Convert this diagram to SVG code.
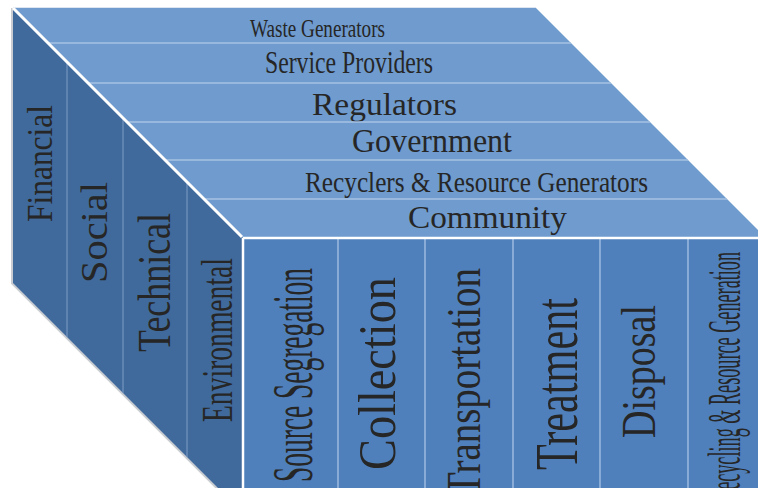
<svg xmlns="http://www.w3.org/2000/svg" width="758" height="488" viewBox="0 0 758 488">
<style>
  .top { fill: #6F9BCE; }
  .left { fill: #406A9B; }
  .front { fill: #4F80BC; }
  .sepTop { stroke: #A7C2E3; stroke-width: 1.5; fill: none; }
  .sepLeft { stroke: #7E9DC4; stroke-width: 1; fill: none; }
  .sepFront { stroke: #AEC8E8; stroke-width: 1.2; fill: none; }
  .edge { stroke: #FFFFFF; fill: none; }
  text { font-family: "Liberation Serif", "DejaVu Serif", serif; fill: #262626; }
</style>
<rect width="758" height="488" fill="#FFFFFF"/>

<!-- outer outline / shadow -->
<path d="M13,8 L13,283 L250,520" fill="none" stroke="#C9CCD0" stroke-width="4"/>
<path d="M13,8 L536,8" fill="none" stroke="#DCE5F0" stroke-width="2"/>

<!-- Top face rows -->
<g id="row-waste-generators">
  <polygon class="top" points="13,8 536,8 571,43 48,43"/>
  <text x="250" y="37" font-size="26" textLength="135" lengthAdjust="spacingAndGlyphs">Waste Generators</text>
</g>
<g id="row-service-providers">
  <polygon class="top" points="48,43 571,43 611,83 88,83"/>
  <text x="265" y="73" font-size="31" textLength="168" lengthAdjust="spacingAndGlyphs">Service Providers</text>
</g>
<g id="row-regulators">
  <polygon class="top" points="88,83 611,83 650,122 127,122"/>
  <text x="312" y="115" font-size="32" textLength="145" lengthAdjust="spacingAndGlyphs">Regulators</text>
</g>
<g id="row-government">
  <polygon class="top" points="127,122 650,122 688,160 165,160"/>
  <text x="352" y="152" font-size="33" textLength="160" lengthAdjust="spacingAndGlyphs">Government</text>
</g>
<g id="row-recyclers">
  <polygon class="top" points="165,160 688,160 727,199 204,199"/>
  <text x="305" y="191.5" font-size="30" textLength="343" lengthAdjust="spacingAndGlyphs">Recyclers &amp; Resource Generators</text>
</g>
<g id="row-community">
  <polygon class="top" points="204,199 727,199 766,238 243,238"/>
  <text x="408" y="228" font-size="32" textLength="159" lengthAdjust="spacingAndGlyphs">Community</text>
</g>

<!-- Left face columns -->
<g id="col-financial">
  <polygon class="left" points="13,8 67,62 67,337 13,283"/>
  <text font-size="35" text-anchor="middle" textLength="117" lengthAdjust="spacingAndGlyphs" transform="translate(52,163.5) rotate(-90)">Financial</text>
</g>
<g id="col-social">
  <polygon class="left" points="67,62 123,118 123,393 67,337"/>
  <text font-size="38" text-anchor="middle" textLength="101" lengthAdjust="spacingAndGlyphs" transform="translate(107,232.5) rotate(-90)">Social</text>
</g>
<g id="col-technical">
  <polygon class="left" points="123,118 187,182 187,457 123,393"/>
  <text font-size="46" text-anchor="middle" textLength="139" lengthAdjust="spacingAndGlyphs" transform="translate(170,282.5) rotate(-90)">Technical</text>
</g>
<g id="col-environmental">
  <polygon class="left" points="187,182 243,238 243,513 187,457"/>
  <text font-size="45" text-anchor="middle" textLength="164" lengthAdjust="spacingAndGlyphs" transform="translate(232,340) rotate(-90)">Environmental</text>
</g>

<!-- Front face columns -->
<g id="col-source-segregation">
  <rect class="front" x="243" y="238" width="95" height="260"/>
  <text font-size="58" text-anchor="middle" textLength="214" lengthAdjust="spacingAndGlyphs" transform="translate(312,375) rotate(-90)">Source Segregation</text>
</g>
<g id="col-collection">
  <rect class="front" x="338" y="238" width="87" height="260"/>
  <text font-size="52" text-anchor="middle" textLength="193" lengthAdjust="spacingAndGlyphs" transform="translate(395,373.5) rotate(-90)">Collection</text>
</g>
<g id="col-transportation">
  <rect class="front" x="425" y="238" width="88" height="260"/>
  <text font-size="48" text-anchor="end" textLength="228" lengthAdjust="spacingAndGlyphs" transform="translate(480,268) rotate(-90)">Transportation</text>
</g>
<g id="col-treatment">
  <rect class="front" x="513" y="238" width="87" height="260"/>
  <text font-size="62" text-anchor="middle" textLength="172" lengthAdjust="spacingAndGlyphs" transform="translate(577,384) rotate(-90)">Treatment</text>
</g>
<g id="col-disposal">
  <rect class="front" x="600" y="238" width="88" height="260"/>
  <text font-size="48" text-anchor="middle" textLength="133" lengthAdjust="spacingAndGlyphs" transform="translate(655,371.5) rotate(-90)">Disposal</text>
</g>
<g id="col-recycling">
  <rect class="front" x="688" y="238" width="80" height="260"/>
  <text font-size="46" text-anchor="end" textLength="250" lengthAdjust="spacingAndGlyphs" transform="translate(740,252) rotate(-90)">Recycling &amp; Resource Generation</text>
</g>

<!-- separator lines -->
<g id="separators">
  <path class="sepTop" d="M48,43 H571 M88,83 H611 M127,122 H650 M165,160 H688 M204,199 H727"/>
  <path class="sepLeft" d="M67,62 V337 M123,118 V393 M187,182 V457"/>
  <path class="sepFront" d="M338,238 V488 M425,238 V488 M513,238 V488 M600,238 V488 M688,238 V488"/>
  <path class="edge" stroke-width="3" d="M13,8 L242,237"/>
  <path class="edge" stroke-width="2.5" d="M243,238 H758 M243,238 V488"/>
</g>

<g id="connectors"/>
</svg>
